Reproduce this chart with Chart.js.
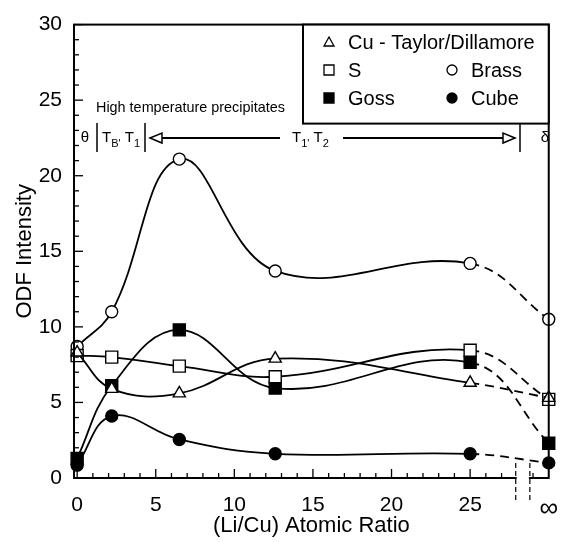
<!DOCTYPE html>
<html lang="en">
<head>
  <meta charset="UTF-8">
  <title>ODF Intensity vs (Li/Cu) Atomic Ratio</title>
  <script src="https://cdn.jsdelivr.net/npm/chart.js"></script>
  <style>
    html, body { margin: 0; padding: 0; background: #fff; }
    #wrap { width: 573px; height: 542px; }
  </style>
</head>
<body>
  <div id="wrap"><canvas id="odfChart" width="573" height="542"></canvas></div>

  <script>
    // x = 30 stands for the "infinity" position after the axis break
    const ratios = [0, 2.2, 6.5, 12.6, 25, 30];
    const cu = [8.3, 5.9, 5.6, 7.9, 6.3, 5.3];
    const sTex = [8.1, 8.0, 7.4, 6.7, 8.45, 5.2];
    const brass = [8.7, 11.0, 21.1, 13.7, 14.2, 10.5];
    const goss = [1.3, 6.1, 9.8, 5.95, 7.65, 2.3];
    const cube = [0.85, 4.1, 2.55, 1.6, 1.6, 1.0];
    const xTicks = [0, 5, 10, 15, 20, 25, 30];
    const yTicks = [0, 5, 10, 15, 20, 25, 30];

    const FONT = "'Liberation Sans', Arial, sans-serif";

    function pts(ys) {
      return ratios.map((x, i) => ({ x: x, y: ys[i] }));
    }

    const dashAfter25 = {
      borderDash: ctx => ctx.p0.parsed.x >= 25 ? [9, 6] : undefined
    };

    function series(label, ys, style, filled, radius) {
      return {
        label: label,
        data: pts(ys),
        borderColor: '#000',
        borderWidth: 1.8,
        tension: 0.4,
        pointStyle: style,
        pointRadius: radius,
        pointBackgroundColor: filled ? '#000' : '#fff',
        pointBorderColor: '#000',
        pointBorderWidth: 1.4,
        clip: false,
        segment: dashAfter25
      };
    }

    // inward ticks, frame, axis break, legend box and phase annotations
    const decorations = {
      id: 'decorations',
      afterDraw(chart) {
        const ctx = chart.ctx;
        const a = chart.chartArea;
        const xs = chart.scales.x;
        const ys = chart.scales.y;
        ctx.save();
        ctx.strokeStyle = '#000';
        ctx.fillStyle = '#000';

        // frame
        ctx.lineWidth = 2;
        ctx.strokeRect(a.left, a.top, a.right - a.left, a.bottom - a.top);

        // minor / major ticks pointing inward
        ctx.lineWidth = 1.3;
        for (let v = 0; v <= 30; v++) {
          const py = ys.getPixelForValue(v);
          const len = v % 5 === 0 ? 9 : 5;
          ctx.beginPath();
          ctx.moveTo(a.left, py);
          ctx.lineTo(a.left + len, py);
          ctx.stroke();
        }
        for (let v = 0; v <= 29; v++) {
          if (v === 28) continue;
          const px = xs.getPixelForValue(v);
          const len = v % 5 === 0 ? 9 : 5;
          ctx.beginPath();
          ctx.moveTo(px, a.bottom);
          ctx.lineTo(px, a.bottom - len);
          ctx.stroke();
        }

        // axis break
        const b1 = xs.getPixelForValue(27.9);
        const b2 = xs.getPixelForValue(28.8);
        ctx.fillStyle = '#fff';
        ctx.fillRect(b1 + 1, a.bottom - 2, b2 - b1 - 2, 4);
        ctx.fillStyle = '#000';
        ctx.lineWidth = 1.2;
        ctx.setLineDash([5, 3]);
        [b1, b2].forEach(px => {
          ctx.beginPath();
          ctx.moveTo(px, a.bottom - 15);
          ctx.lineTo(px, a.bottom + 22);
          ctx.stroke();
        });
        ctx.setLineDash([]);

        // legend box
        const lx = 303, ly = a.top, lw = a.right - lx, lh = 99;
        ctx.fillStyle = '#fff';
        ctx.fillRect(lx, ly, lw, lh);
        ctx.lineWidth = 2;
        ctx.strokeRect(lx, ly, lw, lh);
        ctx.fillStyle = '#000';
        ctx.font = '20px ' + FONT;
        ctx.textBaseline = 'middle';
        ctx.textAlign = 'left';
        const legendRows = [
          [[329, 42, 'tri', false, 'Cu - Taylor/Dillamore']],
          [[329, 70, 'rect', false, 'S'], [452, 70, 'circ', false, 'Brass']],
          [[329, 98, 'rect', true, 'Goss'], [452, 98, 'circ', true, 'Cube']]
        ];
        ctx.lineWidth = 1.3;
        legendRows.forEach(row => row.forEach(([mx, my, shape, fill, text]) => {
          ctx.beginPath();
          if (shape === 'tri') {
            ctx.moveTo(mx, my - 5);
            ctx.lineTo(mx + 5, my + 4);
            ctx.lineTo(mx - 5, my + 4);
            ctx.closePath();
          } else if (shape === 'rect') {
            ctx.rect(mx - 5, my - 5, 10, 10);
          } else {
            ctx.arc(mx, my, 5, 0, Math.PI * 2);
          }
          if (fill) ctx.fill();
          ctx.stroke();
          ctx.fillText(text, mx + 19, my + 1);
        }));

        // annotations
        ctx.save();
        ctx.translate(96, 108);
        ctx.scale(0.96, 1);
        ctx.font = '15px ' + FONT;
        ctx.fillText('High temperature precipitates', 0, 0);
        ctx.restore();

        const ay = 138;
        ctx.font = '15px ' + FONT;
        ctx.textAlign = 'center';
        ctx.fillText('\u03b8', 85, ay);
        ctx.fillText('\u03b4', 545, ay);
        ctx.lineWidth = 1.5;
        [97, 145, 520].forEach(px => {
          ctx.beginPath();
          ctx.moveTo(px, ay - 15);
          ctx.lineTo(px, ay + 14);
          ctx.stroke();
        });

        // subscripted labels
        function subText(x, parts) {
          ctx.textAlign = 'left';
          parts.forEach(([t, sub]) => {
            ctx.font = (sub ? '11px ' : '15px ') + FONT;
            ctx.fillText(t, x, sub ? ay + 6 : ay);
            x += ctx.measureText(t).width;
          });
        }
        subText(102, [['T', false], ["B'", true], [' T', false], ['1', true]]);
        subText(292, [['T', false], ["1'", true], [' T', false], ['2', true]]);

        // arrows
        ctx.lineWidth = 1.8;
        ctx.beginPath();
        ctx.moveTo(162, ay);
        ctx.lineTo(280, ay);
        ctx.moveTo(343, ay);
        ctx.lineTo(503, ay);
        ctx.stroke();
        ctx.lineWidth = 1.5;
        ctx.beginPath();
        ctx.moveTo(150, ay);
        ctx.lineTo(162, ay - 5);
        ctx.lineTo(162, ay + 5);
        ctx.closePath();
        ctx.moveTo(515, ay);
        ctx.lineTo(503, ay - 5);
        ctx.lineTo(503, ay + 5);
        ctx.closePath();
        ctx.stroke();

        ctx.restore();
      }
    };

    new Chart(document.getElementById('odfChart').getContext('2d'), {
      type: 'line',
      data: {
        datasets: [
          series('Cu - Taylor/Dillamore', cu, 'triangle', false, 7),
          series('S', sTex, 'rect', false, 8.5),
          series('Brass', brass, 'circle', false, 6),
          series('Goss', goss, 'rect', true, 8.5),
          series('Cube', cube, 'circle', true, 6)
        ]
      },
      options: {
        responsive: false,
        animation: false,
        layout: { padding: { top: 19, right: 16, left: 0, bottom: 0 } },
        plugins: {
          legend: { display: false },
          tooltip: { enabled: false }
        },
        scales: {
          x: {
            type: 'linear',
            min: -0.2,
            max: 30,
            afterBuildTicks: scale => { scale.ticks = xTicks.map(v => ({ value: v })); },
            afterFit: scale => { scale.height = 64; },
            grid: { display: false, drawTicks: false },
            border: { display: true, color: '#000', width: 2 },
            ticks: {
              color: '#000',
              padding: 15,
              maxRotation: 0,
              autoSkip: false,
              font: ctx => ctx.tick && ctx.tick.value === 30
                ? { family: FONT, size: 26 }
                : { family: FONT, size: 21 },
              callback: v => v === 30 ? '\u221e' : v
            },
            title: {
              display: true,
              text: '(Li/Cu) Atomic Ratio',
              color: '#000',
              font: { family: FONT, size: 22 },
              padding: { top: 0, bottom: 3 }
            }
          },
          y: {
            min: 0,
            max: 30,
            afterBuildTicks: scale => { scale.ticks = yTicks.map(v => ({ value: v })); },
            afterFit: scale => { scale.width = 74; },
            grid: { display: false, drawTicks: false },
            border: { display: true, color: '#000', width: 2 },
            ticks: {
              color: '#000',
              padding: 12,
              font: { family: FONT, size: 21 }
            },
            title: {
              display: true,
              text: 'ODF Intensity',
              color: '#000',
              font: { family: FONT, size: 22 },
              padding: { top: 12, bottom: 0 }
            }
          }
        }
      },
      plugins: [decorations]
    });
  </script>
</body>
</html>
